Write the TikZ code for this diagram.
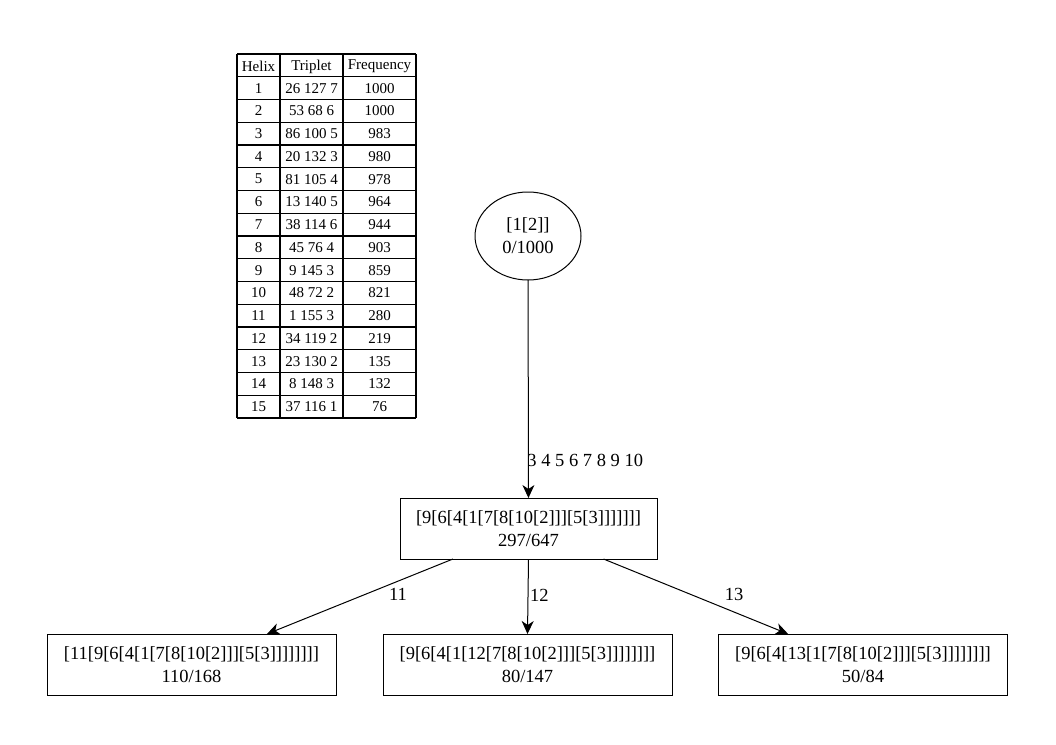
\documentclass[tikz,border=0pt]{standalone}
\usepackage{fontspec}
\setmainfont{Liberation Serif}
\usetikzlibrary{shapes.geometric,arrows.meta}
\begin{document}
\begin{tikzpicture}[x=1pt,y=-1pt,
  every node/.style={inner sep=0pt,outer sep=0pt},
  treebox/.style={draw,line width=1pt,rectangle,minimum width=289pt,minimum height=61pt,align=center,font=\fontsize{18.5}{23}\selectfont},
  rootnode/.style={draw,line width=1pt,ellipse,minimum width=106pt,minimum height=88pt,align=center,font=\fontsize{18.5}{23}\selectfont},
  edgelabel/.style={font=\fontsize{18.5}{22}\selectfont},
  cell/.style={font=\fontsize{15}{16}\selectfont},
  link/.style={line width=1pt,-{Stealth[length=13pt,width=12pt,inset=4pt]}},
  grid line/.style={line width=1.3pt}
]
\useasboundingbox (0,0) rectangle (1056,744);

% helix table
\foreach \y in {54,76.75,...,419}{\draw[grid line] (237,\y) -- (416,\y);}
\foreach \x in {237,280,343,416}{\draw[grid line] (\x,54) -- (\x,418);}
\node[cell] (h0) at (258.5,66.4) {Helix};
\node[cell] (t0) at (311.5,66.4) {Triplet};
\node[cell] (f0) at (379.5,66.4) {Frequency};
\foreach \i/\t/\f in {1/26 127 7/1000, 2/53 68 6/1000, 3/86 100 5/983, 4/20 132 3/980,
  5/81 105 4/978, 6/13 140 5/964, 7/38 114 6/944, 8/45 76 4/903, 9/9 145 3/859,
  10/48 72 2/821, 11/1 155 3/280, 12/34 119 2/219, 13/23 130 2/135, 14/8 148 3/132,
  15/37 116 1/76}{
  \pgfmathsetmacro{\yy}{54+22.75*(\i+0.5)}
  \node[cell] (h\i) at (258.5,\yy) {\i};
  \node[cell] (t\i) at (311.5,\yy) {\t};
  \node[cell] (f\i) at (379.5,\yy) {\f};
}

% search tree
\node[rootnode] (root) at (528,236) {[1[2]]\\0/1000};
\node[treebox,minimum width=257pt] (mid) at (528.5,528.5) {[9[6[4[1[7[8[10[2]]][5[3]]]]]]]\\297/647};
\node[treebox] (left) at (191.5,664.5) {[11[9[6[4[1[7[8[10[2]]][5[3]]]]]]]]\\110/168};
\node[treebox] (center) at (527.5,664.5) {[9[6[4[1[12[7[8[10[2]]][5[3]]]]]]]]\\80/147};
\node[treebox] (right) at (863,664.5) {[9[6[4[13[1[7[8[10[2]]][5[3]]]]]]]]\\50/84};

\draw[link] (root) -- (mid) node[edgelabel,pos=0.8,anchor=west,xshift=-1pt,yshift=-6pt] {3 4 5 6 7 8 9 10};
\draw[link] (mid) -- (left) node[edgelabel] at (398,594) {11};
\draw[link] (mid.south) -- (center.north) node[edgelabel,midway,anchor=west,xshift=2pt,yshift=1pt] {12};
\draw[link] (mid) -- (right) node[edgelabel] at (734,594) {13};
\end{tikzpicture}
\end{document}
